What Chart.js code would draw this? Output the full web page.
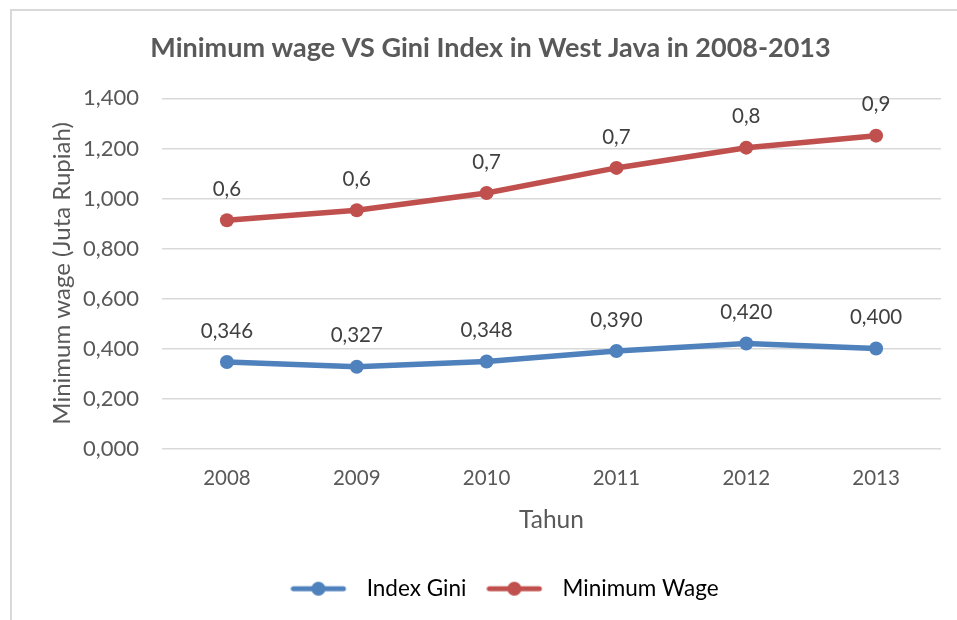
<!DOCTYPE html>
<html>
<head>
<meta charset="utf-8">
<script src="https://cdn.jsdelivr.net/npm/chart.js@4"></script>
<style>
  html, body { margin: 0; padding: 0; background: #fff; }
  #frame {
    position: absolute; left: 10px; top: 9px; width: 947px; height: 611px;
    border-top: 2px solid #d9d9d9; border-left: 2px solid #d9d9d9;
  }
  #wrap { position: absolute; left: 0; top: 0; width: 957px; height: 620px; }
</style>
</head>
<body>
<div id="frame"></div>
<div id="wrap"><canvas id="chart" width="957" height="620"></canvas></div>
<script>
// data
var years = ["2008", "2009", "2010", "2011", "2012", "2013"];
var giniValues = [0.346, 0.327, 0.348, 0.390, 0.420, 0.400];
var wageValues = [0.913, 0.953, 1.022, 1.122, 1.203, 1.251];
var giniLabels = ["0,346", "0,327", "0,348", "0,390", "0,420", "0,400"];
var wageLabels = ["0,6", "0,6", "0,7", "0,7", "0,8", "0,9"];
var yTicks = [0, 0.2, 0.4, 0.6, 0.8, 1.0, 1.2, 1.4];

var FONT = "Lato, 'Open Sans', sans-serif";
var BLUE = "#4f81bd";
var RED = "#c0504d";

// line + dot marker, with a bit of blank space on its right before the text
function legendIcon(color) {
  var c = document.createElement("canvas");
  c.width = 65; c.height = 16;
  var g = c.getContext("2d");
  g.strokeStyle = color; g.lineWidth = 5; g.lineCap = "round";
  g.beginPath(); g.moveTo(3, 8); g.lineTo(53, 8); g.stroke();
  g.fillStyle = color;
  g.beginPath(); g.arc(28, 8, 7, 0, Math.PI * 2); g.fill();
  return c;
}

var pointLabels = {
  id: "pointLabels",
  afterLayout: function (chart) {
    // legend sits a little right of centre in the original
    chart.legend.left += 14;
    chart.legend.right += 14;
  },
  afterDatasetsDraw: function (chart) {
    var ctx = chart.ctx;
    ctx.save();
    ctx.font = "20.5px " + FONT;
    ctx.fillStyle = "#404040";
    ctx.textAlign = "center";
    ctx.textBaseline = "middle";
    chart.data.datasets.forEach(function (ds, i) {
      chart.getDatasetMeta(i).data.forEach(function (pt, j) {
        ctx.fillText(ds.pointText[j], pt.x, pt.y - 31);
      });
    });
    ctx.restore();
  }
};

var ctx = document.getElementById("chart").getContext("2d");
var myChart = new Chart(ctx, {
  type: "line",
  data: {
    labels: years,
    datasets: [
      {
        label: "Index Gini",
        data: giniValues,
        pointText: giniLabels,
        borderColor: BLUE,
        backgroundColor: BLUE,
        borderWidth: 5.5,
        pointRadius: 7,
        pointBorderWidth: 0,
        pointStyle: "circle",
        legendIcon: legendIcon(BLUE),
      },
      {
        label: "Minimum Wage",
        data: wageValues,
        pointText: wageLabels,
        borderColor: RED,
        backgroundColor: RED,
        borderWidth: 5.5,
        pointRadius: 7,
        pointBorderWidth: 0,
        pointStyle: "circle",
        legendIcon: legendIcon(RED),
      },
    ],
  },
  options: {
    responsive: false,
    animation: false,
    layout: { padding: { left: 40, right: 16, top: 0, bottom: 10 } },
    plugins: {
      title: {
        display: true,
        text: "Minimum wage VS Gini Index in West Java in 2008-2013",
        color: "#595959",
        font: { family: FONT, size: 27, weight: "bold" },
        padding: { top: 32, bottom: 34 },
      },
      legend: {
        position: "bottom",
        labels: {
          color: "#000",
          font: { family: FONT, size: 22.5 },
          usePointStyle: true,
          pointStyleWidth: 65,
          boxHeight: 16,
          padding: 20,
          generateLabels: function (chart) {
            return chart.data.datasets.map(function (ds, i) {
              return {
                text: ds.label,
                pointStyle: ds.legendIcon,
                fillStyle: ds.borderColor,
                strokeStyle: ds.borderColor,
                lineWidth: 0,
                datasetIndex: i,
                fontColor: "#000",
              };
            });
          },
        },
      },
      tooltip: { enabled: false },
    },
    scales: {
      x: {
        offset: true,
        grid: { display: false, drawTicks: false },
        border: { display: false },
        ticks: { color: "#595959", font: { family: FONT, size: 20.5 }, padding: 18 },
        title: {
          display: true,
          text: "Tahun",
          color: "#595959",
          font: { family: FONT, size: 24.5 },
          padding: { top: 8, bottom: 23 },
        },
        afterFit: function (scale) { scale.height = 109; },
      },
      y: {
        min: 0,
        max: 1.4,
        afterBuildTicks: function (scale) {
          scale.ticks = yTicks.map(function (v) { return { value: v }; });
        },
        grid: { color: "#d9d9d9", lineWidth: 1.5, drawTicks: false },
        border: { display: false },
        ticks: {
          color: "#595959",
          font: { family: FONT, size: 22 },
          padding: 23,
          callback: function (v) { return v.toFixed(3).replace(".", ","); },
        },
        title: {
          display: true,
          text: "Minimum wage (Juta Rupiah)",
          color: "#595959",
          font: { family: FONT, size: 24 },
          padding: { top: 8, bottom: 0 },
        },
        afterFit: function (scale) { scale.width = 122; },
      },
    },
  },
  plugins: [pointLabels],
});
</script>
</body>
</html>
